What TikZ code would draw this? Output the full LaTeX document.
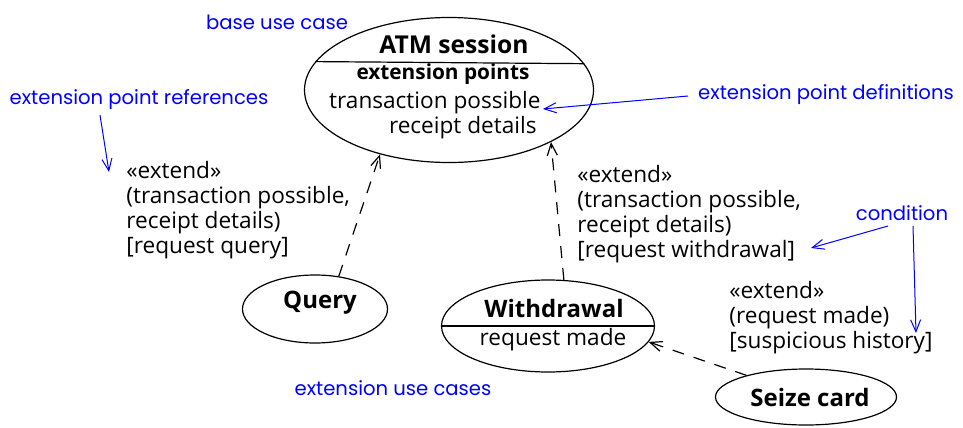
\documentclass[tikz,border=0pt]{standalone}
\usepackage{fontspec}
\setmainfont{Open Sans}
\newfontfamily\notefont{Poppins}
\usetikzlibrary{arrows.meta,shapes.geometric}

\begin{document}
\begin{tikzpicture}[
  x=0.5pt, y=-0.5pt,
  font=\fontsize{11.3}{12.5}\selectfont,
  usecase/.style={ellipse, draw, line width=0.6pt, inner sep=0pt},
  title/.style={font=\fontsize{12}{14}\selectfont\bfseries, inner sep=0pt},
  point/.style={inner sep=0pt},
  extlabel/.style={align=left, anchor=north west, inner sep=0pt},
  extend/.style={-{Straight Barb[length=6pt, width=5pt]}, line width=0.6pt, dash pattern=on 6pt off 5pt},
  note/.style={text=blue, font=\notefont\fontsize{9.8}{11}\selectfont, inner sep=0pt},
  pointer/.style={-{Straight Barb[length=6pt, width=5pt]}, draw=blue, line width=0.5pt}
]
  \useasboundingbox (0,0) rectangle (963,428);

  % Base use case with its two extension points
  \node[usecase, minimum width=144.5pt, minimum height=72.5pt] (atm) at (449,90) {};
  \draw[line width=0.6pt] (atm.168.6) -- (atm.11.4);
  \node[title, font=\fontsize{12.3}{14}\selectfont\bfseries] (atmname) at (454,44) {ATM session};
  \node[point, font=\fontsize{10.4}{12.5}\selectfont\bfseries] (extpoints) at (443,74) {extension points};
  \node[point, anchor=east] (possible) at (541,103) {transaction possible};
  \node[point, anchor=east] (details) at (537,128) {receipt details};

  % Extension use cases
  \node[usecase, minimum width=72.5pt, minimum height=34pt] (query) at (315,309) {};
  \node[title] (queryname) at (320,303) {Query};

  \node[usecase, minimum width=106.5pt, minimum height=46pt] (wd) at (548,326) {};
  \draw[line width=0.6pt] (wd.west) -- (wd.east);
  \node[title] (wdname) at (554,308) {Withdrawal};
  \node[point] (made) at (553,340) {request made};

  \node[usecase, minimum width=90.5pt, minimum height=28pt] (seize) at (806,397) {};
  \node[title] (seizename) at (810,397) {Seize card};

  % Extend relationships
  \draw[extend] (query.54) -- (atm.223);
  \draw[extend] (wd.71) -- (atm.333);
  \draw[extend] (seize.160) -- (wd.351);

  \node[extlabel] (querylabel) at (126,161) {«extend»\\(transaction possible,\\receipt details)\\{}[request query]};
  \node[extlabel] (wdlabel) at (577,165) {«extend»\\(transaction possible,\\receipt details)\\{}[request withdrawal]};
  \node[extlabel] (seizelabel) at (729,281) {«extend»\\(request made)\\{}[suspicious history]};

  % Blue annotations
  \node[note] (base) at (277,22) {base use case};
  \node[note] (refs) at (139,100) {extension point references};
  \node[note] (defs) at (826,95) {extension point definitions};
  \node[note] (cond) at (902,213) {condition};
  \node[note] (extuc) at (393,388) {extension use cases};

  \coordinate (refsfrom) at (100,115);
  \coordinate (refsto) at (109,172);
  \coordinate (defsfrom) at (688,96);
  \coordinate (defsto) at (543,109);
  \coordinate (condfrom1) at (888,226);
  \coordinate (condto1) at (811,248);
  \coordinate (condfrom2) at (913,226);
  \coordinate (condto2) at (916,333);
  \draw[pointer] (refsfrom) -- (refsto);
  \draw[pointer] (defsfrom) -- (defsto);
  \draw[pointer] (condfrom1) -- (condto1);
  \draw[pointer] (condfrom2) -- (condto2);
\end{tikzpicture}
\end{document}
